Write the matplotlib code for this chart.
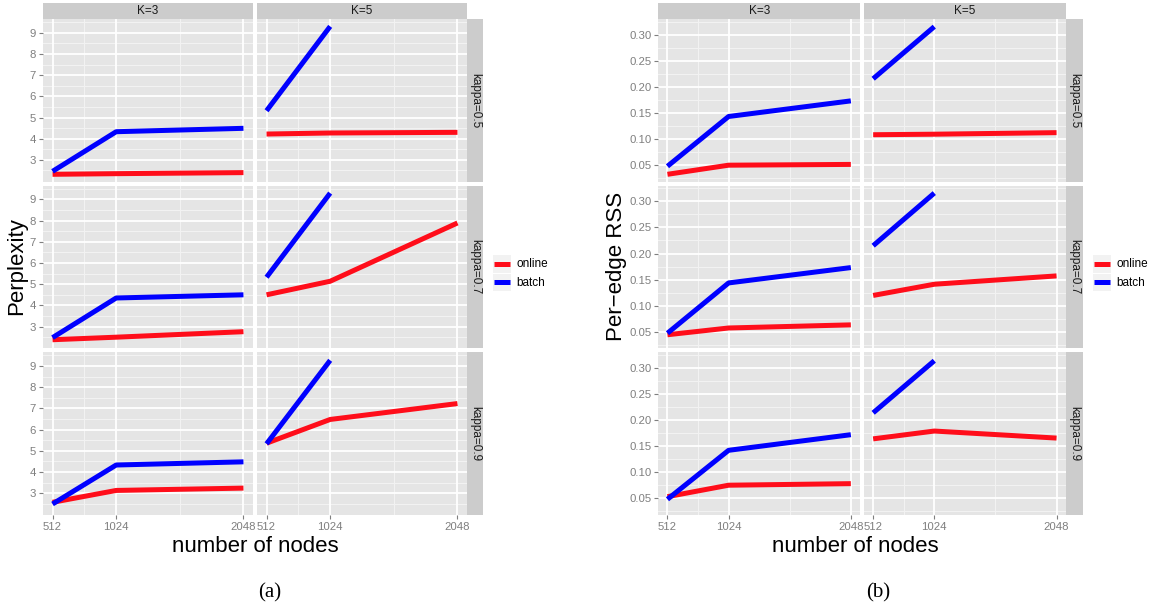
import matplotlib
matplotlib.use("Agg")
import matplotlib.pyplot as plt

# ---------------------------------------------------------------
# Online vs batch: Perplexity (a) and per-edge RSS (b)
# facets: columns K=3 / K=5, rows kappa=0.5 / 0.7 / 0.9
# ---------------------------------------------------------------
nodes = [512, 1024, 2048]
nodes_batch_k5 = [512, 1024]
kappas = ["kappa=0.5", "kappa=0.7", "kappa=0.9"]
col_labels = ["K=3", "K=5"]
x_ticks = [512, 1024, 2048]
x_minor = [768, 1536]

# Perplexity, one row per kappa
perp_k3_online = [[2.32, 2.35, 2.40], [2.38, 2.50, 2.76], [2.57, 3.13, 3.24]]
perp_k3_batch = [[2.46, 4.33, 4.49], [2.48, 4.35, 4.50], [2.49, 4.33, 4.48]]
perp_k5_online = [[4.22, 4.27, 4.30], [4.50, 5.14, 7.89], [5.36, 6.48, 7.23]]
perp_k5_batch = [[5.32, 9.30], [5.33, 9.30], [5.33, 9.27]]
perp_ticks = [3, 4, 5, 6, 7, 8, 9]

# Per-edge RSS, one row per kappa
rss_k3_online = [[0.032, 0.0495, 0.051], [0.044, 0.057, 0.063], [0.053, 0.075, 0.078]]
rss_k3_batch = [[0.0475, 0.143, 0.173], [0.047, 0.1435, 0.173], [0.048, 0.142, 0.172]]
rss_k5_online = [[0.108, 0.109, 0.112], [0.1195, 0.141, 0.157], [0.164, 0.179, 0.1655]]
rss_k5_batch = [[0.2155, 0.3155], [0.215, 0.316], [0.214, 0.314]]
rss_ticks = [0.05, 0.10, 0.15, 0.20, 0.25, 0.30]

# ggplot2 (old theme_grey) colours
PANEL = "#E5E5E5"
MINOR = "#F2F2F2"
STRIP = "#CCCCCC"
AXTXT = "#7F7F7F"
STRTXT = "#1A1A1A"
C_ONLINE = "#FF0D1A"
C_BATCH = "#0000FF"

plt.rcParams["font.family"] = ["Liberation Sans", "DejaVu Sans"]

W, H = 1149, 610
fig = plt.figure(figsize=(W / 100, H / 100), dpi=100)
fig.patch.set_facecolor("white")


def px_axes(x0, y0, w, h):
    # pixel box (top-left origin) -> figure axes
    return fig.add_axes([x0 / W, 1 - (y0 + h) / H, w / W, h / H])


def expand(vals):
    flat = [v for row in vals for series in row for v in series]
    lo, hi = min(flat), max(flat)
    pad = (hi - lo) * 0.05
    return lo - pad, hi + pad


def minor_between(ticks, lo, hi):
    step = ticks[1] - ticks[0]
    out = []
    v = ticks[0] - step / 2
    while v < hi:
        if v > lo:
            out.append(v)
        v += step
    return out


def facet_grid(cols_x, pw, strip_x, strip_w, data, ticks, fmt, ylabel, ylabel_x,
               xlabel_x, tag, tag_x, legend_x):
    rows_y = [19, 185.7, 352.3]
    ph = 162.7
    ylim = expand(data)
    yminor = minor_between(ticks, *ylim)
    xlim = (512 - 0.05 * 1536, 2048 + 0.05 * 1536)

    for c, cx in enumerate(cols_x):
        # column strip on top
        s = px_axes(cx, 3, pw, 16)
        s.set_facecolor(STRIP)
        s.set_xticks([]); s.set_yticks([])
        for sp in s.spines.values():
            sp.set_visible(False)
        s.text(0.5, 0.5, col_labels[c], transform=s.transAxes, ha="center",
               va="center", fontsize=8.5, color=STRTXT)

        for r, ry in enumerate(rows_y):
            ax = px_axes(cx, ry, pw, ph)
            ax.set_facecolor(PANEL)
            for sp in ax.spines.values():
                sp.set_visible(False)
            ax.set_xlim(*xlim)
            ax.set_ylim(*ylim)

            for xm in x_minor:
                ax.axvline(xm, color=MINOR, lw=0.8, zorder=0)
            for ym in yminor:
                ax.axhline(ym, color=MINOR, lw=0.8, zorder=0)
            for xt in x_ticks:
                ax.axvline(xt, color="white", lw=1.3, zorder=1)
            for yt in ticks:
                ax.axhline(yt, color="white", lw=1.3, zorder=1)

            online, batch = data[r][2 * c], data[r][2 * c + 1]
            xb = nodes if c == 0 else nodes_batch_k5
            ax.plot(nodes, online, color=C_ONLINE, lw=3.6,
                    solid_capstyle="butt", solid_joinstyle="round", zorder=3)
            ax.plot(xb, batch, color=C_BATCH, lw=3.6,
                    solid_capstyle="butt", solid_joinstyle="round", zorder=4)

            ax.set_xticks(x_ticks)
            ax.set_yticks(ticks)
            ax.tick_params(length=3, width=0.8, color=AXTXT, labelcolor=AXTXT,
                           labelsize=8.2, pad=2)
            if c == 0:
                ax.set_yticklabels([fmt(t) for t in ticks])
            else:
                ax.tick_params(axis="y", left=False, labelleft=False)
            if r == 2:
                ax.set_xticklabels([str(t) for t in x_ticks])
            else:
                ax.tick_params(axis="x", bottom=False, labelbottom=False)

            if c == 1:
                rs = px_axes(strip_x, ry, strip_w, ph)
                rs.set_facecolor(STRIP)
                rs.set_xticks([]); rs.set_yticks([])
                for sp in rs.spines.values():
                    sp.set_visible(False)
                rs.text(0.5, 0.5, kappas[r], transform=rs.transAxes, ha="center",
                        va="center", rotation=-90, fontsize=8.5, color=STRTXT)

    # axis titles
    fig.text(ylabel_x / W, 1 - 266.5 / H, ylabel, rotation=90, ha="center",
             va="center", fontsize=16, color="black")
    fig.text(xlabel_x / W, 1 - 551.5 / H, "number of nodes", ha="center",
             va="baseline", fontsize=16, color="black")
    fig.text(tag_x / W, 1 - 593 / H, tag, ha="center", va="center",
             fontsize=15, family="Liberation Serif", color="black")

    # legend keys
    for i, (lab, col) in enumerate([("online", C_ONLINE), ("batch", C_BATCH)]):
        ky = 255 + i * 18.5
        k = px_axes(legend_x, ky, 17.7, 17.7)
        k.set_facecolor(MINOR)
        k.set_xlim(0, 1); k.set_ylim(0, 1)
        k.set_xticks([]); k.set_yticks([])
        for sp in k.spines.values():
            sp.set_visible(False)
        k.plot([0.06, 0.94], [0.5, 0.5], color=col, lw=3.6, solid_capstyle="butt")
        fig.text((legend_x + 23.5) / W, 1 - (ky + 9) / H, lab, ha="left",
                 va="center", fontsize=8.5, color="black")


def stack(a, b, c_, d):
    return [[a[r], b[r], c_[r], d[r]] for r in range(3)]


perp = stack(perp_k3_online, perp_k3_batch, perp_k5_online, perp_k5_batch)
rss = stack(rss_k3_online, rss_k3_batch, rss_k5_online, rss_k5_batch)

facet_grid([43, 257], 210, 467, 16, perp, perp_ticks, lambda t: str(t),
           "Perplexity", 16.7, 255.3, "(a)", 270, 493)
facet_grid([658.3, 864], 201.7, 1065.7, 17, rss, rss_ticks, lambda t: f"{t:.2f}",
           "Per\u2212edge RSS", 616.7, 855, "(b)", 878, 1093)

fig.savefig("out.png", dpi=100, facecolor="white")
